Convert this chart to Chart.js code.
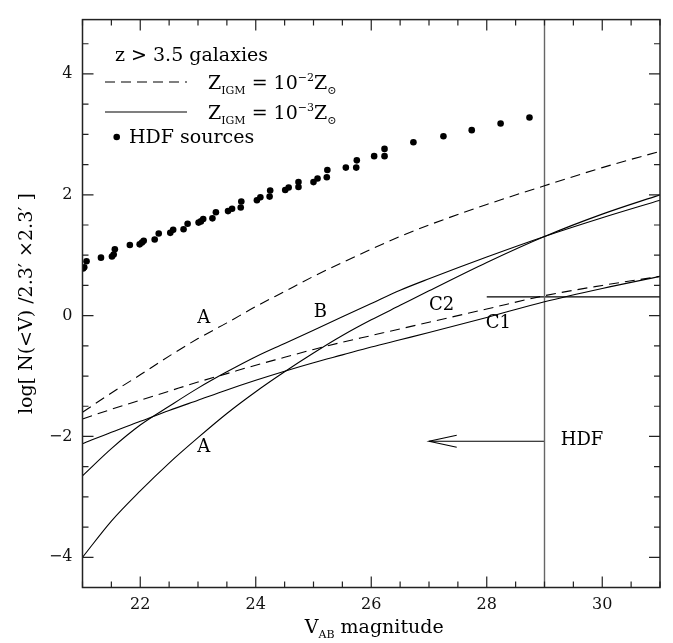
<!DOCTYPE html>
<html><head>
<meta charset="UTF-8">
<title>z &gt; 3.5 galaxies</title>
<script src="https://cdn.jsdelivr.net/npm/chart.js"></script>
<style>
  html, body { margin: 0; padding: 0; background: #fff; }
</style>
</head>
<body>
<canvas id="chart" width="673" height="643"></canvas>
<script>
  // HDF sources (V_AB magnitude, log N)
  const hdfMag = [21.01, 21.03, 21.07, 21.32, 21.51, 21.54, 21.56, 21.82, 21.99, 22.03, 22.06, 22.25, 22.32,
    22.52, 22.57, 22.75, 22.82, 23.01, 23.05, 23.09, 23.25, 23.31, 23.52, 23.59, 23.74, 23.75, 24.02,
    24.08, 24.24, 24.25, 24.51, 24.57, 24.74, 24.74, 25.00, 25.07, 25.23, 25.24, 25.56, 25.74, 25.75,
    26.05, 26.23, 26.23, 26.73, 27.25, 27.74, 28.24, 28.74];
  const hdfLogN = [0.78, 0.80, 0.90, 0.96, 0.98, 1.01, 1.10, 1.17, 1.18, 1.21, 1.24, 1.26, 1.36,
    1.37, 1.42, 1.43, 1.52, 1.54, 1.56, 1.60, 1.61, 1.71, 1.73, 1.77, 1.79, 1.89, 1.91,
    1.96, 1.97, 2.07, 2.08, 2.12, 2.13, 2.21, 2.21, 2.27, 2.29, 2.41, 2.45, 2.45, 2.57,
    2.64, 2.64, 2.76, 2.87, 2.97, 3.07, 3.18, 3.28];

  // model counts
  const modelMag = [21, 21.5, 22, 22.5, 23, 23.5, 24, 24.5, 25, 25.5, 26, 26.5, 27, 28, 29, 30, 31];
  const dashA = [-1.60, -1.28, -0.98, -0.67, -0.38, -0.12, 0.15, 0.40, 0.65, 0.88, 1.10, 1.31, 1.50, 1.84, 2.15, 2.45, 2.72];
  const dashC2 = [-1.71, -1.55, -1.40, -1.25, -1.10, -0.96, -0.82, -0.69, -0.56, -0.44, -0.33, -0.22, -0.11, 0.11, 0.33, 0.50, 0.65];
  const solidA = [-4.00, -3.40, -2.90, -2.44, -2.02, -1.62, -1.26, -0.93, -0.62, -0.33, -0.07, 0.17, 0.41, 0.88, 1.31, 1.68, 2.00];
  const solidB = [-2.65, -2.20, -1.81, -1.50, -1.20, -0.93, -0.68, -0.46, -0.24, -0.02, 0.20, 0.42, 0.61, 0.97, 1.31, 1.62, 1.91];
  const solidC1 = [-2.12, -1.93, -1.75, -1.57, -1.40, -1.23, -1.07, -0.92, -0.78, -0.65, -0.52, -0.40, -0.28, -0.03, 0.23, 0.45, 0.65];

  // HDF limit, arrow and level mark
  const hdfLimit = 29;
  const arrowTo = 27;
  const arrowLevel = -2.08;
  const levelMag = [28, 31];
  const levelLogN = 0.31;

  // curve labels
  const curveLabels = ['A', 'A', 'B', 'C2', 'C1', 'HDF'];
  const labelMag = [23.1, 23.1, 25.12, 27.22, 28.2, 29.65];
  const labelLogN = [-0.05, -2.18, 0.06, 0.165, -0.13, -2.06];

  const xMajor = [22, 24, 26, 28, 30];
  const yMajor = [-4, -2, 0, 2, 4];
  const xMin = 21, xMax = 31, yMin = -4.5, yMax = 4.9;

  const SERIF = '"DejaVu Serif", "Liberation Serif", serif';
  const pts = (xs, ys) => xs.map((x, i) => ({ x: x, y: ys[i] }));

  function curve(data, dashed) {
    return {
      data: data, showLine: true, pointRadius: 0, borderColor: '#000', borderWidth: 1.1,
      borderDash: dashed ? [10, 6] : [], cubicInterpolationMode: 'monotone', fill: false
    };
  }
  function segment(data, color, width) {
    return { data: data, showLine: true, pointRadius: 0, borderColor: color, borderWidth: width, tension: 0, fill: false };
  }

  // minor/major ticks inside the frame on all four sides, plus the frame
  const framePlugin = {
    id: 'frame',
    afterDatasetsDraw(chart) {
      const { ctx, chartArea: a, scales: { x, y } } = chart;
      ctx.save();
      ctx.strokeStyle = '#222';
      ctx.lineWidth = 1.5;
      ctx.strokeRect(a.left, a.top, a.right - a.left, a.bottom - a.top);
      ctx.lineWidth = 1.2;
      ctx.beginPath();
      for (let v = xMin; v <= xMax + 1e-6; v += 0.5) {
        const px = x.getPixelForValue(v);
        const len = xMajor.includes(v) ? 11 : 6;
        ctx.moveTo(px, a.bottom); ctx.lineTo(px, a.bottom - len);
        ctx.moveTo(px, a.top); ctx.lineTo(px, a.top + len);
      }
      for (let v = -4.5; v <= yMax + 1e-6; v += 0.5) {
        const py = y.getPixelForValue(v);
        const len = yMajor.includes(v) ? 11 : 6;
        ctx.moveTo(a.left, py); ctx.lineTo(a.left + len, py);
        ctx.moveTo(a.right, py); ctx.lineTo(a.right - len, py);
      }
      ctx.stroke();
      ctx.restore();
    }
  };

  // draws a run of text pieces with sub/superscripts
  function richText(ctx, parts, x, y, size) {
    let cx = x;
    parts.forEach(p => {
      const small = p.sub || p.sup;
      ctx.font = (small ? Math.round(size * 0.58) : size) + 'px ' + SERIF;
      const dy = p.sub ? size * 0.28 : (p.sup ? -size * 0.42 : 0);
      ctx.fillText(p.t, cx, y + dy);
      cx += ctx.measureText(p.t).width;
    });
    return cx - x;
  }

  const textPlugin = {
    id: 'texts',
    afterDatasetsDraw(chart) {
      const { ctx, chartArea: a, scales: { x, y } } = chart;
      ctx.save();
      ctx.fillStyle = '#000';
      ctx.strokeStyle = '#000';

      // legend block
      ctx.textBaseline = 'alphabetic';
      ctx.textAlign = 'left';
      ctx.font = '19px ' + SERIF;
      ctx.fillText('z > 3.5 galaxies', 115, 61);

      ctx.lineWidth = 1.1;
      ctx.setLineDash([10, 6]);
      ctx.beginPath(); ctx.moveTo(105, 82); ctx.lineTo(187, 82); ctx.stroke();
      ctx.setLineDash([]);
      ctx.beginPath(); ctx.moveTo(105, 112); ctx.lineTo(187, 112); ctx.stroke();
      richText(ctx, [{ t: 'Z' }, { t: 'IGM', sub: true }, { t: ' = 10' }, { t: '−2', sup: true }, { t: 'Z' }, { t: '⊙', sub: true }], 208, 89, 19);
      richText(ctx, [{ t: 'Z' }, { t: 'IGM', sub: true }, { t: ' = 10' }, { t: '−3', sup: true }, { t: 'Z' }, { t: '⊙', sub: true }], 208, 119, 19);
      ctx.beginPath(); ctx.arc(116.7, 137, 3.3, 0, Math.PI * 2); ctx.fill();
      ctx.font = '19px ' + SERIF;
      ctx.fillText('HDF sources', 129, 143);

      // curve labels
      ctx.textAlign = 'center';
      ctx.textBaseline = 'middle';
      ctx.font = '18px ' + SERIF;
      curveLabels.forEach((t, i) => {
        ctx.fillText(t, x.getPixelForValue(labelMag[i]), y.getPixelForValue(labelLogN[i]));
      });

      // axis titles
      ctx.textAlign = 'left';
      ctx.textBaseline = 'alphabetic';
      ctx.font = '19px ' + SERIF;
      const xParts = [{ t: 'V' }, { t: 'AB', sub: true }, { t: ' magnitude' }];
      const off = document.createElement('canvas').getContext('2d');
      const w = richText(off, xParts, 0, 0, 19);
      richText(ctx, xParts, (a.left + a.right) / 2 - w / 2 + 3, 633, 19);

      ctx.translate(32, (a.top + a.bottom) / 2);
      ctx.rotate(-Math.PI / 2);
      ctx.textAlign = 'center';
      ctx.font = '19px ' + SERIF;
      ctx.fillText('log[ N(<V) /2.3′ ×2.3′ ]', 0, 0);
      ctx.restore();
    }
  };

  const arrowHead = [{ x: arrowTo + 0.48, y: arrowLevel + 0.1 }, { x: arrowTo, y: arrowLevel }, { x: arrowTo + 0.48, y: arrowLevel - 0.1 }];

  new Chart(document.getElementById('chart'), {
    type: 'scatter',
    data: {
      datasets: [
        curve(pts(modelMag, dashA), true),
        curve(pts(modelMag, dashC2), true),
        curve(pts(modelMag, solidA), false),
        curve(pts(modelMag, solidB), false),
        curve(pts(modelMag, solidC1), false),
        segment([{ x: hdfLimit, y: yMin }, { x: hdfLimit, y: yMax }], '#666', 1.4),
        segment([{ x: levelMag[0], y: levelLogN }, { x: levelMag[1], y: levelLogN }], '#000', 1.1),
        segment([{ x: hdfLimit, y: arrowLevel }, { x: arrowTo, y: arrowLevel }], '#000', 1.1),
        segment(arrowHead, '#000', 1.1),
        {
          data: pts(hdfMag, hdfLogN), pointRadius: 3.3, pointBackgroundColor: '#000',
          pointBorderWidth: 0, showLine: false
        }
      ]
    },
    options: {
      responsive: false,
      devicePixelRatio: 1,
      animation: false,
      events: [],
      layout: { padding: { top: 10.7, right: 13, bottom: 0, left: 0 } },
      plugins: { legend: { display: false }, tooltip: { enabled: false } },
      scales: {
        x: {
          type: 'linear', min: xMin, max: xMax,
          afterBuildTicks: s => { s.ticks = xMajor.map(v => ({ value: v })); },
          afterFit: s => { s.height = 55.5; },
          grid: { display: false, drawTicks: false },
          border: { display: false },
          ticks: { padding: 8, color: '#111', maxRotation: 0, font: { family: SERIF, size: 16 } }
        },
        y: {
          type: 'linear', min: yMin, max: yMax,
          afterBuildTicks: s => { s.ticks = yMajor.map(v => ({ value: v })); },
          afterFit: s => { s.width = 82.5; },
          grid: { display: false, drawTicks: false },
          border: { display: false },
          ticks: {
            padding: 10, color: '#111', font: { family: SERIF, size: 16 },
            callback: v => v < 0 ? '−' + Math.abs(v) : String(v)
          }
        }
      }
    },
    plugins: [framePlugin, textPlugin]
  });
</script>
</body>
</html>
